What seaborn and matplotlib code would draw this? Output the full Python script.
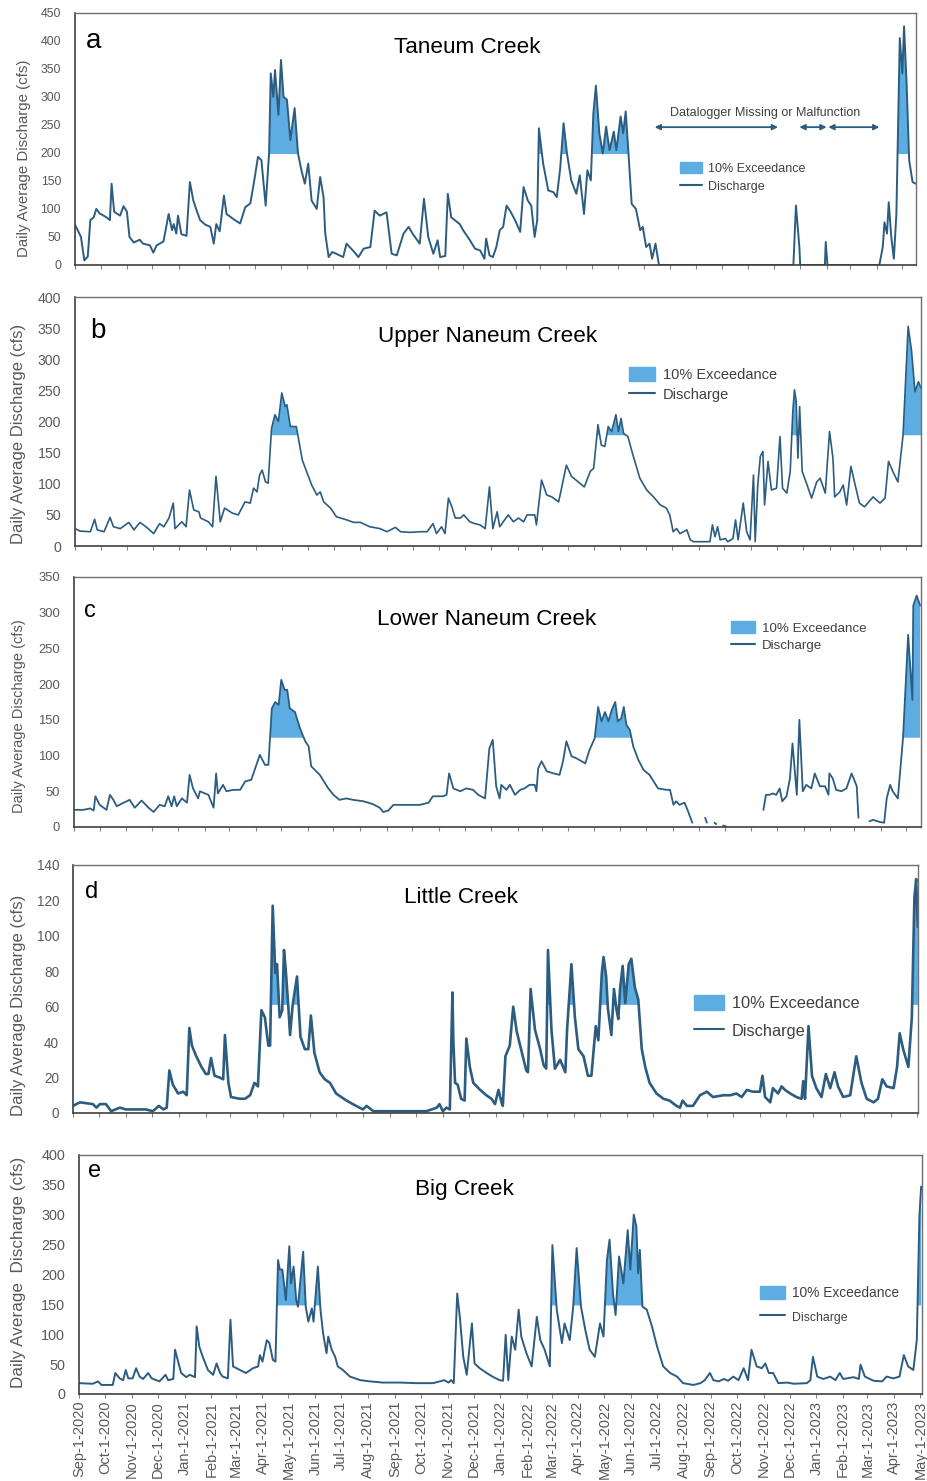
import numpy as np
import pandas as pd
import seaborn as sns
import matplotlib.pyplot as plt
from matplotlib.patches import Patch
from matplotlib.lines import Line2D

nan = np.nan

# daily discharge, day = days since Sep-1-2020
taneum_day = [0, 7, 11, 15, 18, 22, 25, 29, 37, 41,
              43, 46, 53, 57, 61, 64, 69, 76, 80, 88,
              92, 96, 104, 110, 114, 116, 119, 121, 125, 131,
              135, 139, 143, 147, 153, 159, 163, 166, 170, 175,
              178, 186, 194, 200, 206, 210, 215, 219, 224, 228,
              230, 233, 235, 239, 242, 245, 249, 253, 258, 262,
              266, 270, 274, 278, 284, 288, 292, 294, 298, 302,
              307, 315, 319, 327, 333, 339, 347, 352, 358, 366,
              372, 378, 386, 392, 397, 405, 410, 415, 421, 426,
              429, 435, 438, 442, 452, 456, 464, 470, 476, 481,
              483, 487, 491, 495, 499, 503, 507, 511, 517, 523,
              527, 532, 536, 540, 543, 545, 550, 556, 562, 566,
              570, 574, 578, 583, 589, 593, 598, 602, 606, 609,
              612, 616, 620, 624, 628, 633, 636, 641, 644, 647,
              650, 654, 659, 664, 667, 671, 675, 678, 682, 686,
              844, 847, 851, 852, 881, 882, 884, 945, 949, 951,
              954, 956, 959, 962, 965, 969, 972, 974, 977, 980,
              984, 988]
taneum_cfs = [72, 50, 8, 15, 80, 85, 100, 92, 85, 80,
              145, 95, 88, 105, 95, 50, 40, 45, 38, 35,
              22, 35, 42, 91, 62, 73, 56, 88, 55, 52,
              148, 115, 97, 80, 72, 68, 38, 73, 60, 124,
              91, 82, 74, 103, 110, 145, 193, 187, 106, 199,
              342, 300, 348, 268, 366, 300, 295, 223, 280, 199,
              169, 145, 181, 115, 100, 157, 121, 56, 14, 23,
              20, 14, 38, 25, 14, 29, 32, 97, 88, 94,
              20, 17, 56, 68, 55, 38, 118, 50, 20, 44,
              14, 16, 127, 85, 73, 62, 44, 29, 26, 11,
              47, 17, 14, 32, 62, 68, 106, 97, 80, 59,
              139, 115, 106, 50, 80, 244, 181, 133, 130, 121,
              172, 253, 199, 151, 127, 160, 91, 169, 151, 271,
              320, 235, 199, 247, 205, 238, 205, 265, 235, 274,
              205, 109, 100, 62, 68, 32, 38, 11, 38, 0,
              0, 106, 32, 0, 0, 41, 0, 0, 32, 76,
              56, 112, 50, 11, 91, 405, 342, 426, 324, 187,
              148, 145]

upper_day = [0, 6, 18, 23, 26, 34, 41, 45, 53, 63,
             69, 76, 84, 92, 99, 104, 110, 115, 117, 125,
             130, 134, 139, 145, 147, 156, 161, 165, 170, 175,
             184, 191, 199, 205, 209, 213, 216, 219, 223, 226,
             230, 234, 238, 242, 246, 248, 252, 259, 266, 271,
             277, 283, 287, 291, 299, 306, 318, 326, 334, 345,
             357, 365, 375, 381, 392, 404, 412, 419, 423, 429,
             433, 437, 441, 445, 451, 455, 462, 468, 474, 480,
             485, 489, 494, 497, 507, 513, 519, 525, 529, 538,
             540, 546, 552, 558, 566, 575, 581, 589, 596, 603,
             607, 612, 616, 620, 624, 628, 633, 636, 639, 642,
             647, 653, 661, 669, 677, 685, 692, 696, 700, 704,
             708, 716, 720, 724, 743, 746, 749, 752, 755, 761,
             764, 770, 773, 776, 782, 786, 790, 794, 796, 799,
             802, 805, 807, 811, 815, 821, 825, 828, 833, 837,
             840, 842, 844, 846, 848, 851, 856, 862, 868, 872,
             878, 883, 887, 889, 895, 899, 903, 908, 913, 918,
             924, 934, 942, 948, 952, 957, 963, 969, 975, 979,
             983, 987, 990]
upper_cfs = [28, 24, 23, 43, 26, 23, 46, 31, 28, 38,
             26, 38, 30, 20, 36, 31, 45, 69, 28, 39,
             31, 90, 58, 55, 45, 39, 31, 112, 39, 61,
             53, 50, 71, 69, 93, 87, 114, 122, 103, 101,
             189, 211, 200, 246, 224, 227, 192, 192, 138, 120,
             98, 82, 87, 71, 61, 47, 42, 38, 38, 31,
             28, 23, 30, 23, 22, 23, 23, 36, 20, 31,
             20, 77, 63, 45, 45, 50, 39, 36, 34, 28,
             95, 28, 55, 31, 50, 39, 45, 39, 50, 50,
             34, 106, 82, 79, 71, 130, 112, 103, 95, 120,
             125, 195, 162, 160, 192, 184, 211, 184, 205, 181,
             176, 146, 109, 90, 79, 66, 61, 50, 23, 28,
             20, 26, 10, 7, 7, 34, 15, 31, 10, 12,
             7, 12, 42, 10, 69, 23, 10, 114, 7, 98,
             144, 152, 66, 136, 90, 93, 176, 93, 85, 120,
             216, 251, 232, 141, 224, 120, 101, 77, 103, 109,
             85, 184, 141, 79, 87, 98, 66, 128, 98, 69,
             63, 79, 69, 77, 136, 120, 103, 178, 353, 313,
             248, 264, 254]

lower_day = [0, 11, 19, 23, 25, 30, 38, 42, 46, 50,
             58, 65, 71, 79, 87, 93, 100, 106, 110, 114,
             117, 120, 126, 132, 135, 139, 145, 147, 157, 163,
             166, 168, 174, 178, 186, 194, 200, 207, 211, 217,
             223, 227, 231, 235, 239, 242, 246, 249, 252, 258,
             264, 270, 274, 277, 287, 297, 303, 310, 318, 326,
             338, 349, 357, 361, 367, 373, 381, 392, 404, 414,
             419, 431, 435, 438, 443, 451, 458, 466, 472, 480,
             485, 489, 493, 497, 499, 505, 509, 515, 521, 526,
             532, 538, 540, 542, 546, 552, 560, 567, 571, 575,
             581, 587, 597, 602, 608, 612, 616, 620, 624, 628,
             632, 635, 639, 642, 645, 649, 653, 659, 665, 672,
             682, 692, 696, 700, 703, 707, 713, 717, 722, 725,
             737, 739, 742, 748, 750, 752, 758, 761, 763, 805,
             808, 812, 816, 820, 824, 827, 832, 836, 839, 844,
             847, 851, 855, 861, 865, 871, 877, 881, 882, 886,
             890, 896, 902, 908, 914, 916, 918, 929, 933, 941,
             946, 949, 953, 956, 962, 968, 974, 979, 980, 984,
             988]
lower_cfs = [24, 24, 26, 23, 43, 31, 24, 45, 38, 29,
             34, 38, 27, 37, 27, 21, 31, 29, 43, 29,
             43, 29, 40, 34, 73, 54, 40, 50, 45, 27,
             75, 47, 59, 50, 52, 52, 64, 66, 80, 101,
             87, 87, 166, 175, 171, 206, 192, 192, 166, 161,
             138, 120, 113, 85, 73, 54, 45, 38, 40, 38,
             36, 32, 27, 21, 23, 31, 31, 31, 31, 34,
             43, 43, 45, 75, 54, 50, 54, 52, 45, 40,
             110, 122, 57, 40, 59, 52, 59, 45, 52, 54,
             59, 59, 50, 82, 92, 78, 75, 73, 92, 120,
             99, 96, 89, 108, 124, 168, 148, 161, 148, 164,
             175, 148, 152, 168, 143, 136, 113, 94, 80, 73,
             54, 52, 52, 31, 36, 31, 34, 22, 6, nan,
             13, 6, nan, 6, 4, nan, 2, 1, nan, 24,
             45, 45, 47, 45, 54, 36, 43, 68, 117, 45,
             150, 50, 59, 54, 75, 57, 57, 45, 75, 68,
             52, 50, 54, 75, 57, 13, nan, 8, 10, 7,
             6, 40, 59, 50, 40, 124, 269, 178, 310, 324,
             310]

little_day = [0, 8, 23, 27, 31, 38, 44, 54, 61, 69,
              77, 84, 92, 99, 104, 108, 111, 115, 121, 127,
              131, 134, 137, 142, 148, 153, 156, 159, 163, 169,
              173, 175, 179, 182, 192, 198, 204, 209, 213, 217,
              221, 225, 227, 230, 233, 235, 238, 241, 243, 245,
              248, 250, 253, 258, 262, 267, 271, 274, 278, 284,
              290, 296, 303, 315, 326, 334, 338, 346, 361, 376,
              392, 407, 419, 422, 426, 430, 434, 437, 438, 440,
              443, 447, 451, 453, 457, 461, 465, 469, 476, 482,
              486, 490, 494, 495, 498, 503, 507, 511, 517, 522,
              524, 527, 532, 538, 542, 545, 547, 551, 555, 561,
              567, 569, 574, 578, 582, 588, 593, 597, 602, 605,
              609, 611, 614, 616, 620, 623, 626, 628, 630, 633,
              636, 640, 643, 647, 651, 655, 659, 664, 672, 680,
              687, 695, 699, 702, 707, 714, 722, 730, 737, 749,
              757, 764, 770, 776, 783, 791, 794, 797, 803, 806,
              812, 816, 820, 826, 833, 839, 841, 843, 847, 851,
              856, 862, 867, 872, 877, 881, 887, 895, 902, 908,
              914, 922, 927, 932, 937, 945, 949, 952, 956, 962,
              966, 969, 971, 973]
little_cfs = [4, 6, 5, 3, 5, 5, 1, 3, 2, 2,
              2, 2, 1, 4, 2, 3, 24, 16, 11, 12,
              10, 48, 38, 32, 26, 22, 22, 31, 21, 20,
              19, 44, 17, 9, 8, 8, 10, 17, 15, 58,
              54, 38, 38, 117, 79, 84, 54, 58, 92, 81,
              60, 44, 61, 77, 43, 36, 36, 55, 34, 23,
              19, 17, 11, 7, 4, 2, 4, 1, 1, 1,
              1, 1, 3, 5, 1, 3, 2, 68, 41, 17,
              16, 8, 7, 42, 26, 17, 15, 13, 10, 8,
              5, 13, 5, 4, 32, 38, 60, 46, 34, 24,
              23, 70, 47, 36, 27, 25, 92, 47, 25, 30,
              23, 47, 84, 54, 36, 32, 21, 21, 49, 41,
              79, 88, 77, 59, 44, 70, 58, 53, 70, 83,
              62, 84, 87, 71, 64, 36, 26, 17, 11, 8,
              7, 4, 3, 7, 4, 4, 10, 12, 9, 10,
              10, 11, 9, 13, 12, 12, 21, 9, 6, 14,
              11, 15, 13, 11, 9, 8, 18, 8, 49, 21,
              14, 9, 22, 14, 23, 15, 9, 10, 32, 17,
              8, 6, 8, 19, 15, 14, 26, 45, 36, 26,
              54, 122, 132, 105]

big_day = [0, 16, 22, 26, 39, 42, 47, 51, 54, 57,
           62, 66, 70, 74, 80, 84, 93, 100, 103, 109,
           111, 114, 118, 124, 128, 134, 136, 139, 143, 149,
           155, 159, 163, 166, 172, 175, 178, 186, 193, 201,
           207, 209, 212, 217, 220, 224, 227, 230, 232, 235,
           239, 243, 245, 248, 251, 253, 259, 262, 265, 269,
           271, 276, 279, 282, 286, 288, 292, 296, 299, 305,
           313, 325, 336, 351, 371, 390, 409, 422, 427, 430,
           433, 437, 440, 444, 448, 454, 457, 463, 471, 479,
           486, 490, 493, 496, 500, 504, 508, 511, 517, 523,
           529, 533, 538, 544, 547, 552, 558, 561, 567, 571,
           575, 580, 585, 590, 596, 602, 606, 610, 613, 617,
           620, 624, 629, 634, 637, 641, 644, 646, 648, 651,
           656, 662, 668, 675, 683, 691, 698, 710, 718, 723,
           729, 733, 739, 745, 750, 756, 762, 768, 773, 777,
           783, 789, 793, 797, 802, 808, 818, 826, 841, 845,
           848, 853, 860, 868, 874, 879, 883, 895, 901, 903,
           908, 918, 928, 933, 941, 948, 953, 958, 964, 968,
           971, 973]
big_cfs = [18, 17, 21, 15, 15, 35, 26, 23, 40, 26,
           26, 43, 29, 25, 35, 26, 21, 32, 23, 25,
           74, 57, 35, 28, 32, 28, 113, 79, 62, 40,
           32, 51, 35, 29, 26, 124, 46, 40, 35, 43,
           46, 65, 54, 90, 85, 57, 54, 224, 208, 208,
           157, 247, 185, 213, 157, 146, 238, 146, 121, 143,
           121, 213, 141, 102, 68, 96, 74, 62, 46, 40,
           29, 23, 21, 19, 19, 18, 18, 23, 19, 23,
           18, 168, 129, 62, 32, 118, 51, 43, 35, 28,
           23, 22, 99, 23, 96, 74, 141, 96, 68, 46,
           129, 90, 74, 46, 249, 141, 85, 118, 90, 146,
           244, 146, 107, 74, 62, 118, 96, 224, 258, 168,
           132, 230, 185, 274, 208, 300, 280, 202, 241, 146,
           141, 113, 79, 46, 35, 29, 18, 15, 18, 23,
           35, 23, 21, 25, 22, 29, 23, 43, 23, 74,
           46, 43, 51, 35, 35, 18, 19, 17, 18, 23,
           62, 29, 25, 29, 23, 35, 25, 28, 25, 49,
           29, 22, 21, 29, 26, 29, 65, 46, 40, 90,
           297, 347]

creeks = ['Taneum Creek', 'Upper Naneum Creek', 'Lower Naneum Creek', 'Little Creek', 'Big Creek']
letters = ['a', 'b', 'c', 'd', 'e']
exceed_10 = [198, 178, 125, 61, 148]
y_max = [450, 400, 350, 140, 400]
y_step = [50, 50, 50, 20, 50]
taneum_gaps = [(681, 826), (851, 883), (885, 945)]   # datalogger missing (days)

start = pd.Timestamp('2020-09-01')
month_ticks = pd.date_range('2020-09-01', '2023-05-01', freq='MS')
month_labels = [f'{d:%b}-1-{d.year}' for d in month_ticks]

series = [(taneum_day, taneum_cfs), (upper_day, upper_cfs), (lower_day, lower_cfs),
          (little_day, little_cfs), (big_day, big_cfs)]

LINE = '#2C5D80'
FILL = '#5DADE2'
GRAY = '#595959'

sns.set_style('white')
plt.rcParams['font.family'] = ['Liberation Sans', 'DejaVu Sans']

# panel layout
rects = [[0.0809, 0.8211, 0.9072, 0.1702],
         [0.0809, 0.6313, 0.9126, 0.1681],
         [0.0798, 0.4416, 0.9137, 0.1688],
         [0.0787, 0.2485, 0.9115, 0.1675],
         [0.0852, 0.0588, 0.9094, 0.1614]]
x_end = [988, 990, 989, 973, 974]
line_w = [1.4, 1.2, 1.3, 1.9, 1.4]
ytick_fs = [8.8, 10.2, 9.4, 9.8, 10.4]
ylab_fs = [10.8, 12, 10.5, 12.1, 12.3]
ylab_xy = [(-0.061, 0.423), (-0.067, 0.45), (-0.065, 0.442), (-0.065, 0.435), (-0.072, 0.508)]
ylab_txt = ['Daily Average Discharge (cfs)'] * 4 + ['Daily Average  Discharge (cfs)']
letter_xy = [(0.013, 0.861), (0.018, 0.835), (0.012, 0.84), (0.014, 0.867), (0.011, 0.908)]
letter_fs = [20, 20, 17, 17, 17]
title_xy = [(0.467, 0.841), (0.4876, 0.82), (0.4876, 0.808), (0.459, 0.848), (0.457, 0.833)]
leg_xy = [(0.719, 0.409), (0.655, 0.719), (0.776, 0.824), (0.735, 0.476), (0.808, 0.452)]
leg_fs = [9, 10.5, 9.6, 11.8, 9.9]
leg_sp = [0.39, 0.39, 0.3, 0.7, 0.7]
disch_fs = [9, 10.5, 9.6, 11.8, 8.8]

fig = plt.figure(figsize=(9.27, 14.81), dpi=100)

for i in range(5):
    ax = fig.add_axes(rects[i])
    days, cfs = series[i]
    df = pd.DataFrame({'date': start + pd.to_timedelta(days, unit='D'), 'cfs': cfs})
    df['seg'] = df['cfs'].isna().cumsum()
    thr = exceed_10[i]

    ax.fill_between(df['date'], thr, df['cfs'], where=(df['cfs'] > thr).to_numpy(),
                    interpolate=True, color=FILL, lw=0, zorder=1)
    sns.lineplot(data=df.dropna(), x='date', y='cfs', units='seg', estimator=None,
                 color=LINE, lw=line_w[i], ax=ax, zorder=2)

    ax.set_xlim(start, start + pd.Timedelta(days=x_end[i]))
    ax.set_ylim(0, y_max[i])
    ax.set_yticks(np.arange(0, y_max[i] + 1, y_step[i]))
    ax.set_xticks(month_ticks)
    ax.set_xlabel('')
    ax.set_ylabel('')
    ax.tick_params(axis='y', length=0, pad=10, labelsize=ytick_fs[i], labelcolor=GRAY)
    ax.tick_params(axis='x', bottom=True, length=3, width=0.8, color='#808080',
                   labelsize=10.5, labelcolor=GRAY, pad=2)
    if i < 4:
        ax.tick_params(axis='x', labelbottom=False)
    else:
        ax.set_xticklabels(month_labels, rotation=90)

    for side in ['left', 'bottom']:
        ax.spines[side].set_color('#404040')
        ax.spines[side].set_linewidth(1.2)
    for side in ['top', 'right']:
        ax.spines[side].set_color('#707070')
        ax.spines[side].set_linewidth(1.0)

    ax.text(*ylab_xy[i], ylab_txt[i], transform=ax.transAxes, rotation=90,
            ha='center', va='center', fontsize=ylab_fs[i], color=GRAY)
    ax.text(*letter_xy[i], letters[i], transform=ax.transAxes, ha='left', va='baseline',
            fontsize=letter_fs[i], color='black')
    ax.text(*title_xy[i], creeks[i], transform=ax.transAxes, ha='center', va='baseline',
            fontsize=16.2, color='black')

    handles = [Patch(facecolor=FILL, edgecolor=FILL, label='10% Exceedance'),
               Line2D([], [], color=LINE, lw=1.5, label='Discharge')]
    leg = ax.legend(handles=handles, loc='upper left', bbox_to_anchor=leg_xy[i], frameon=False,
                    fontsize=leg_fs[i], labelcolor='#404040', borderpad=0, borderaxespad=0,
                    handlelength=1.8, handleheight=1.05, handletextpad=0.5,
                    labelspacing=leg_sp[i])
    leg.get_texts()[1].set_fontsize(disch_fs[i])

    if i == 0:
        for d0, d1 in taneum_gaps:
            ax.annotate('', xy=(start + pd.Timedelta(days=d1), 246),
                        xytext=(start + pd.Timedelta(days=d0), 246),
                        arrowprops=dict(arrowstyle='<|-|>', color=LINE, lw=1.3,
                                        mutation_scale=8, shrinkA=0, shrinkB=0))
        ax.text(start + pd.Timedelta(days=811), 271, 'Datalogger Missing or Malfunction',
                ha='center', va='center', fontsize=9, color='#404040')

fig.savefig('out.png', dpi=100)
